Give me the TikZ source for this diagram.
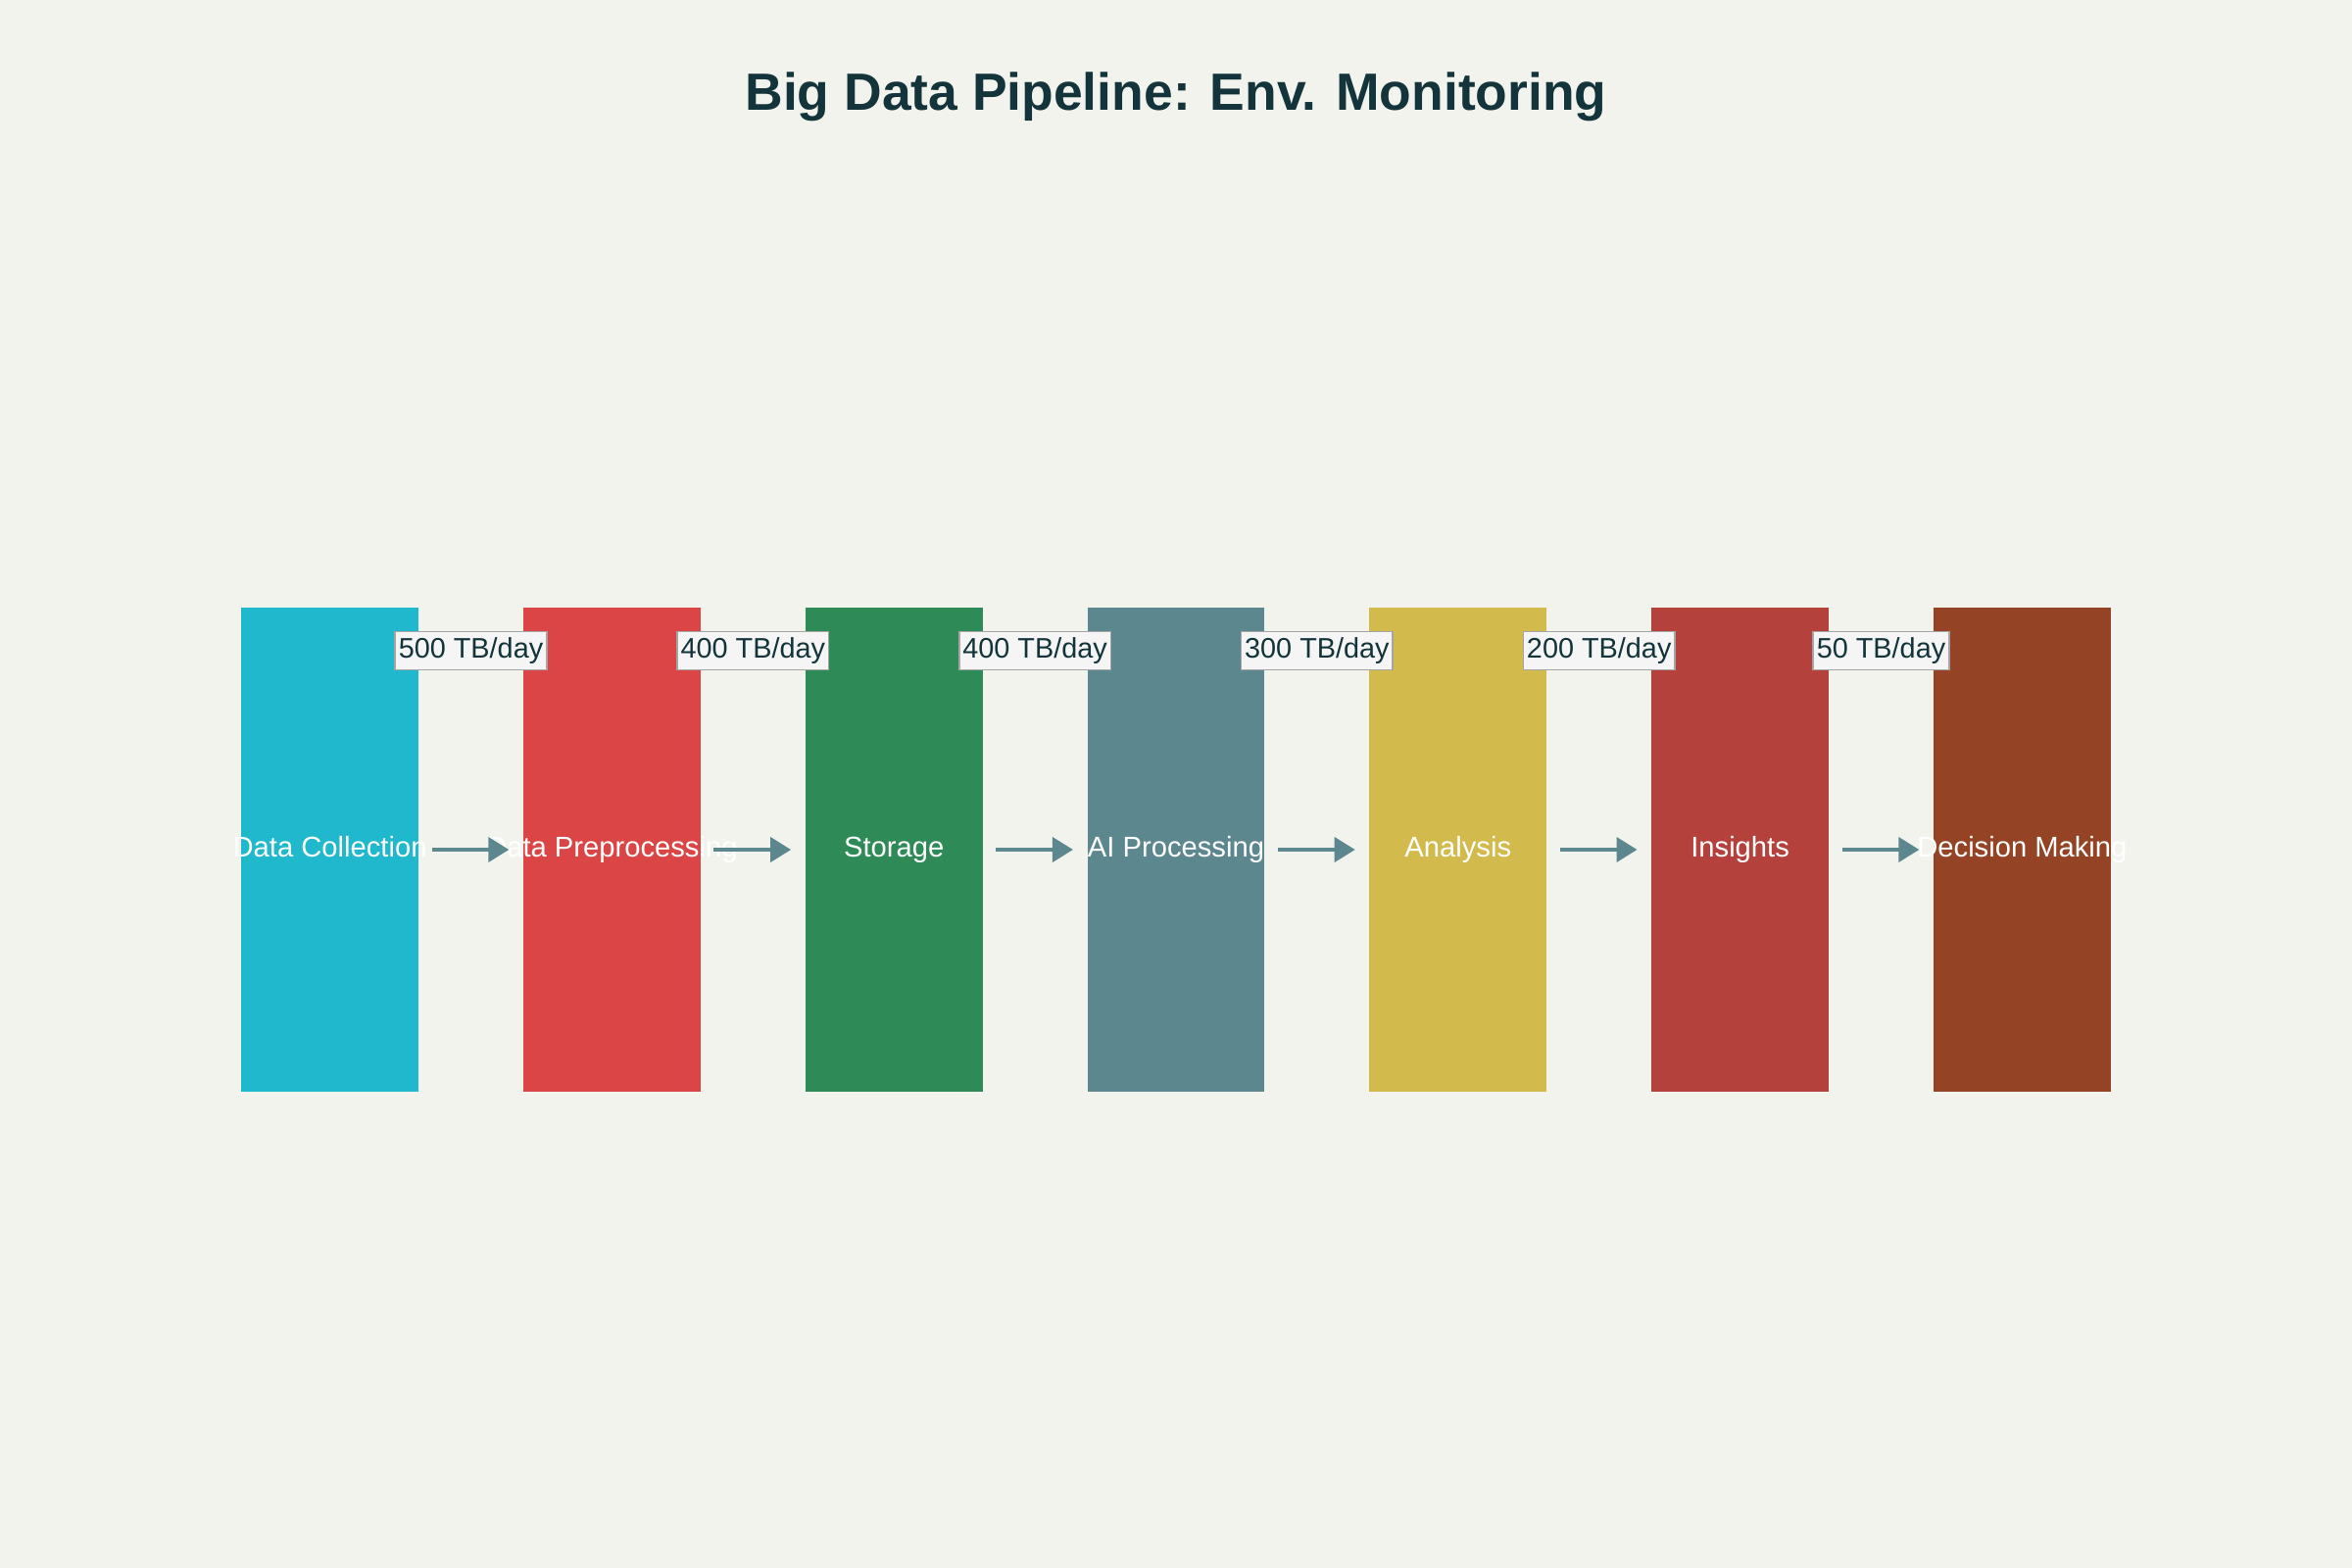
\documentclass[tikz,border=0pt]{standalone}
\usepackage{fontspec}
\setmainfont{Liberation Sans}
\usetikzlibrary{arrows.meta}
\definecolor{pagebg}{HTML}{F3F3EE}
\definecolor{titleink}{HTML}{13343B}
\definecolor{flowink}{HTML}{5D878F}
\definecolor{rateedge}{HTML}{A4A6A6}
\definecolor{ratebg}{HTML}{F4F5F4}
\definecolor{stageA}{HTML}{1FB8CD}
\definecolor{stageB}{HTML}{DB4545}
\definecolor{stageC}{HTML}{2E8B57}
\definecolor{stageD}{HTML}{5D878F}
\definecolor{stageE}{HTML}{D2BA4C}
\definecolor{stageF}{HTML}{B4413C}
\definecolor{stageG}{HTML}{944325}
\tikzset{
  stage/.style={rectangle,minimum width=1.806cm,minimum height=4.94cm,inner sep=0pt},
  stagetext/.style={text=white,inner sep=0pt,text height=6.2pt,text depth=1.8pt,font=\fontsize{8.3}{10}\selectfont},
  rate/.style={draw=rateedge,line width=0.45pt,fill=ratebg,text=titleink,inner xsep=1pt,inner ysep=0pt,minimum height=0.39cm,font=\fontsize{8.2}{10}\selectfont},
  flow/.style={draw=flowink,line width=1.1pt,-{Triangle[length=0.21cm,width=0.25cm]}}
}
\begin{document}
\begin{tikzpicture}[x=0.01cm,y=-0.01cm]
              \fill[pagebg] (0,0) rectangle (2400,1600);
              \useasboundingbox (0,0) rectangle (2400,1600);
              \node[font=\bfseries\fontsize{15.2}{18}\selectfont,text=titleink] (title) at (1200,99) {Big Data Pipeline: Env. Monitoring};
              \node[stage,fill=stageA,label={[stagetext]center:Data Collection}] (b1) at (336.6,867) {};
              \node[stage,fill=stageB,label={[stagetext]center:Data Preprocessing}] (b2) at (624.4,867) {};
              \node[stage,fill=stageC,label={[stagetext]center:Storage}] (b3) at (912.2,867) {};
              \node[stage,fill=stageD,label={[stagetext]center:AI Processing}] (b4) at (1200,867) {};
              \node[stage,fill=stageE,label={[stagetext]center:Analysis}] (b5) at (1487.8,867) {};
              \node[stage,fill=stageF,label={[stagetext]center:Insights}] (b6) at (1775.6,867) {};
              \node[stage,fill=stageG,label={[stagetext]center:Decision Making}] (b7) at (2063.4,867) {};
              \draw[flow] ([xshift=0.13cm]b1.east) -- ([xshift=-0.14cm]b2.west);
              \draw[flow] ([xshift=0.13cm]b2.east) -- ([xshift=-0.14cm]b3.west);
              \draw[flow] ([xshift=0.13cm]b3.east) -- ([xshift=-0.14cm]b4.west);
              \draw[flow] ([xshift=0.13cm]b4.east) -- ([xshift=-0.14cm]b5.west);
              \draw[flow] ([xshift=0.13cm]b5.east) -- ([xshift=-0.14cm]b6.west);
              \draw[flow] ([xshift=0.13cm]b6.east) -- ([xshift=-0.14cm]b7.west);
              \node[rate] (r1) at (480.5,664) {500 TB/day};
              \node[rate] (r2) at (768.3,664) {400 TB/day};
              \node[rate] (r3) at (1056.1,664) {400 TB/day};
              \node[rate] (r4) at (1343.9,664) {300 TB/day};
              \node[rate] (r5) at (1631.7,664) {200 TB/day};
              \node[rate] (r6) at (1919.5,664) {50 TB/day};
            \end{tikzpicture}
\end{document}
